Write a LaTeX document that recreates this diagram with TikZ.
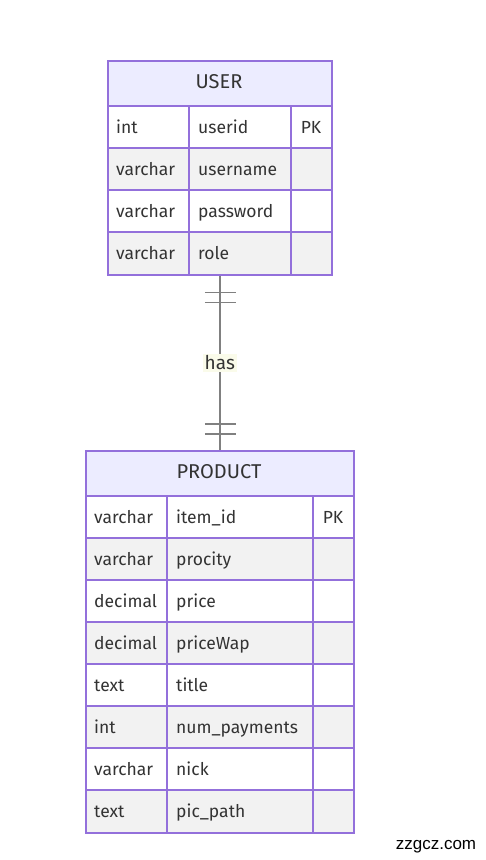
\documentclass[tikz,border=0pt]{standalone}
\usepackage{fontspec}
\setmainfont{Fira Sans}
\newfontfamily\wmfont{Liberation Sans}
\usetikzlibrary{calc}
\definecolor{erpurple}{HTML}{9370DB}
\definecolor{erhead}{HTML}{ECECFF}
\definecolor{rowgray}{HTML}{F2F2F2}
\definecolor{ertext}{HTML}{333333}
\definecolor{relgray}{HTML}{808080}
\definecolor{labelbg}{HTML}{FAFBEA}
\begin{document}
\begin{tikzpicture}[x=1pt,y=-1pt,
  gridline/.style={draw=erpurple, line width=1.4pt},
  entity/.style={draw=erpurple, line width=1.6pt, inner sep=0pt, anchor=north west},
  celltext/.style={anchor=mid west, inner sep=0pt, text=ertext, font=\fontsize{17.5}{20}\selectfont},
  keytext/.style={anchor=mid, inner sep=0pt, text=ertext, font=\fontsize{17.5}{20}\selectfont},
  headtext/.style={anchor=mid, inner sep=0pt, text=ertext, font=\fontsize{20}{23}\selectfont},
  rel/.style={draw=relgray, line width=1.6pt},
  rellabel/.style={fill=labelbg, inner sep=2pt, text=ertext, font=\fontsize{19}{22}\selectfont},
  watermark/.style={anchor=mid, inner sep=0pt, text=black, font=\wmfont\fontsize{17}{20}\selectfont}]
\useasboundingbox (0,0) rectangle (486,860);

% ---------- USER ----------
\fill[erhead] (107,60) rectangle (331,106);
\foreach \a/\b/\c/\f [count=\i] in {int/userid/PK/white, varchar/username//rowgray, varchar/password//white, varchar/role//rowgray}{
  \pgfmathsetmacro{\ytop}{106+42*(\i-1)}
  \fill[\f] (107,\ytop) rectangle (331,\ytop+42);
  \node[celltext] (ut\i) at (116,\ytop+24.5) {\a};
  \node[celltext] (un\i) at (198,\ytop+24.5) {\b};
  \node[keytext] (uk\i) at (311,\ytop+24.5) {\c};
}
\foreach \y in {106,148,190,232}{\draw[gridline] (107,\y) -- (331,\y);}
\draw[gridline] (189,106) -- (189,274);
\draw[gridline] (291,106) -- (291,274);
\node[entity, minimum width=224pt, minimum height=214pt] (user) at (107,60) {};
\node[headtext] (userhead) at (219,85.5) {USER};

% ---------- PRODUCT ----------
\fill[erhead] (85,450) rectangle (353,496);
\foreach \a/\b/\c/\f [count=\i] in {varchar/item\_id/PK/white, varchar/procity//rowgray, decimal/price//white, decimal/priceWap//rowgray, text/title//white, int/num\_payments//rowgray, varchar/nick//white, text/pic\_path//rowgray}{
  \pgfmathsetmacro{\ytop}{496+42*(\i-1)}
  \fill[\f] (85,\ytop) rectangle (353,\ytop+42);
  \node[celltext] (pt\i) at (94,\ytop+24.5) {\a};
  \node[celltext] (pn\i) at (176,\ytop+24.5) {\b};
  \node[keytext] (pk\i) at (333,\ytop+24.5) {\c};
}
\foreach \y in {496,538,580,622,664,706,748,790}{\draw[gridline] (85,\y) -- (353,\y);}
\draw[gridline] (167,496) -- (167,832);
\draw[gridline] (313,496) -- (313,832);
\node[entity, minimum width=268pt, minimum height=382pt] (product) at (85,450) {};
\node[headtext] (prodhead) at (219,475.5) {PRODUCT};

% ---------- relationship ----------
\draw[rel] (user.south) -- (product.north);
\draw[rel] ($(user.south)+(-15,17)$) -- ++(31,0);
\draw[rel] ($(user.south)+(-15,27)$) -- ++(31,0);
\draw[rel] ($(product.north)+(-15,-26)$) -- ++(31,0);
\draw[rel] ($(product.north)+(-15,-16)$) -- ++(31,0);
\node[rellabel] (has) at ($(user.south)!0.5!(product.north)$) {has};

\node[watermark] (wm) at (436,847) {zzgcz.com};
\end{tikzpicture}
\end{document}
